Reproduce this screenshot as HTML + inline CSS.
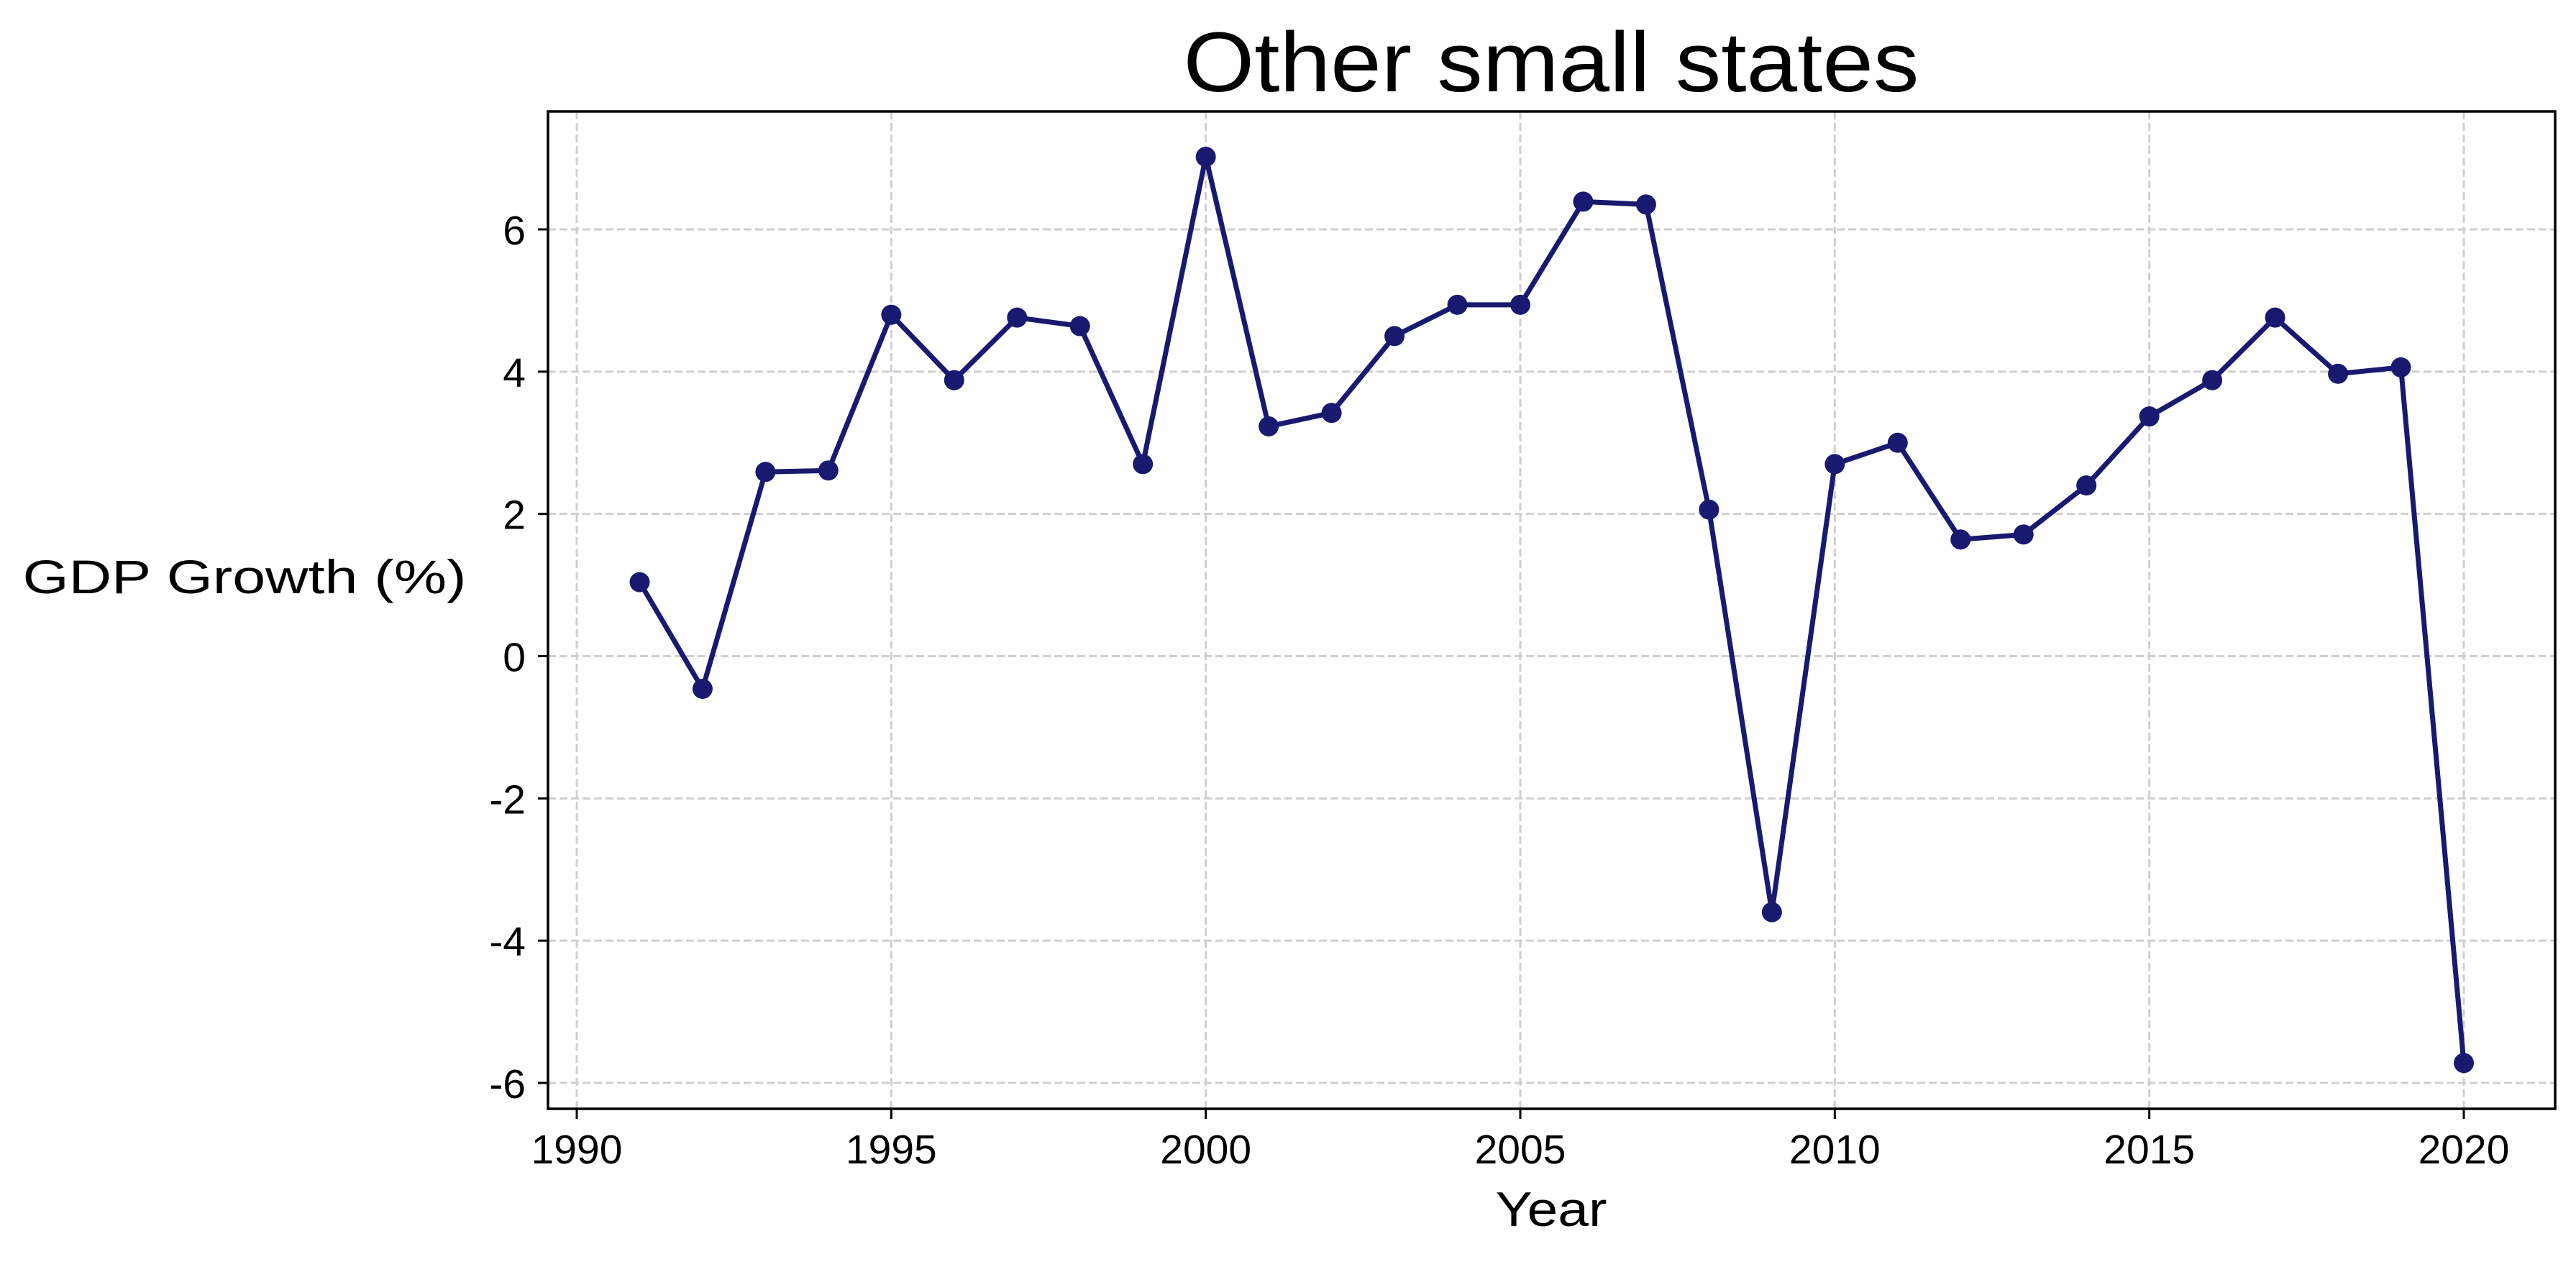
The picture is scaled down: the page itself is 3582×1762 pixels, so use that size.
<!DOCTYPE html>
<html><head><meta charset="utf-8"><style>
html,body{margin:0;padding:0;background:#fff;}
svg{display:block;font-family:"Liberation Sans","Noto Sans CJK KR",sans-serif;}
</style></head><body>
<svg id="chart" width="3582" height="1762" viewBox="0 0 3582 1762" xmlns="http://www.w3.org/2000/svg">
<rect width="3582" height="1762" fill="#fff"/>
<g id="grid"></g>
<g id="ticks"></g>
<g id="series"></g>
<rect x="762" y="155" width="2791" height="1387" fill="none" stroke="#000" stroke-width="3.5"/>
<text x="2157" y="127" text-anchor="middle" font-size="118" textLength="1023" lengthAdjust="spacingAndGlyphs">Other small states</text>
<text x="340" y="825" text-anchor="middle" font-size="66" textLength="617" lengthAdjust="spacingAndGlyphs">GDP Growth (%)</text>
<text x="2157" y="1705" text-anchor="middle" font-size="68" textLength="155" lengthAdjust="spacingAndGlyphs">Year</text>
</svg>
<script>
const years = [1991,1992,1993,1994,1995,1996,1997,1998,1999,2000,2001,2002,2003,2004,2005,2006,2007,2008,2009,2010,2011,2012,2013,2014,2015,2016,2017,2018,2019,2020];
const growth = [1.04,-0.46,2.59,2.61,4.80,3.88,4.76,4.64,2.70,7.02,3.23,3.42,4.50,4.94,4.94,6.39,6.35,2.06,-3.60,2.70,3.00,1.64,1.71,2.40,3.37,3.88,4.76,3.97,4.06,-5.72];
const xTicks = [1990,1995,2000,2005,2010,2015,2020];
const yTicks = [-6,-4,-2,0,2,4,6];

const NS = "http://www.w3.org/2000/svg";
function xs(v){ return 802 + (v - 1990) * (3426 - 802) / 30; }
function ys(v){ return 319 + (6 - v) * (1506 - 319) / 12; }
function mk(tag, attrs, parent){
  const e = document.createElementNS(NS, tag);
  for (const k in attrs) e.setAttribute(k, attrs[k]);
  parent.appendChild(e);
  return e;
}
const grid = document.getElementById('grid');
const ticks = document.getElementById('ticks');
const series = document.getElementById('series');

xTicks.forEach(t => {
  const g = mk('line', {x1: xs(t), x2: xs(t), y1: 155, y2: 1542, stroke: '#cfcfcf', 'stroke-width': 3, 'stroke-dasharray': '11 5'}, grid);
  
  
  const tk = mk('line', {x1: xs(t), x2: xs(t), y1: 1542, y2: 1556, stroke: '#000', 'stroke-width': 3}, ticks);
  
  
  const lb = mk('text', {x: xs(t), y: 1618, 'text-anchor': 'middle', 'font-size': 57}, ticks);
  lb.textContent = t;
  
  
});
yTicks.forEach(t => {
  const g = mk('line', {x1: 762, x2: 3553, y1: ys(t), y2: ys(t), stroke: '#cfcfcf', 'stroke-width': 3, 'stroke-dasharray': '11 5'}, grid);
  
  
  const tk = mk('line', {x1: 748, x2: 762, y1: ys(t), y2: ys(t), stroke: '#000', 'stroke-width': 3}, ticks);
  
  
  const lb = mk('text', {x: 731, y: ys(t) + 21, 'text-anchor': 'end', 'font-size': 57}, ticks);
  lb.textContent = t;
  
  
});

const pts = years.map((y, i) => xs(y).toFixed(1) + ',' + ys(growth[i]).toFixed(1)).join(' ');
const line = mk('polyline', {points: pts, fill: 'none', stroke: '#191970', 'stroke-width': 7, 'stroke-linejoin': 'round'}, series);


years.forEach((y, i) => {
  const c = mk('circle', {cx: xs(y), cy: ys(growth[i]), r: 14, fill: '#191970'}, series);
  
  
});
</script>
</body></html>
